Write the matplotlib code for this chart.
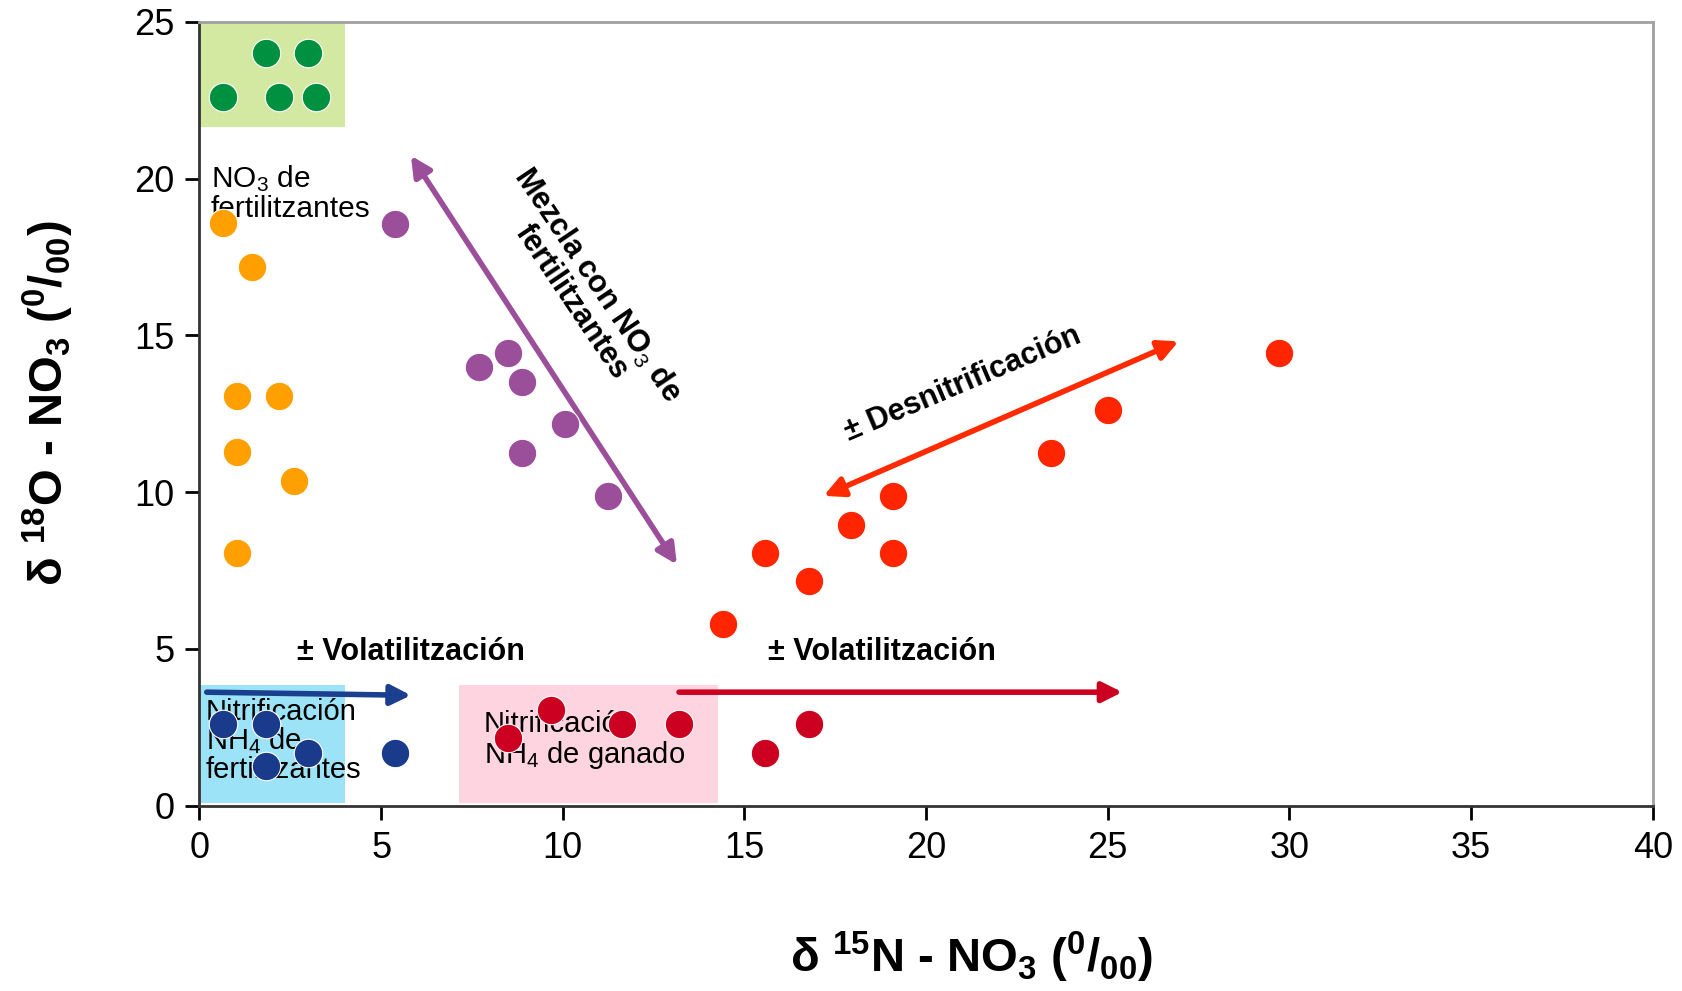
import matplotlib.pyplot as plt
from matplotlib.patches import Rectangle

plt.rcParams["font.family"] = ["Liberation Sans", "DejaVu Sans"]
plt.rcParams["mathtext.fontset"] = "custom"
plt.rcParams["mathtext.rm"] = "Liberation Sans"
plt.rcParams["mathtext.bf"] = "Liberation Sans:bold"
plt.rcParams["mathtext.it"] = "Liberation Sans:italic"

# --- data (delta15N, delta18O, per mil) ---
green_x = [0.65, 1.83, 3.0, 2.2, 3.2]
green_y = [22.6, 24.0, 24.0, 22.6, 22.6]

orange_x = [0.65, 1.45, 1.03, 2.2, 1.03, 2.6, 1.03]
orange_y = [18.57, 17.17, 13.06, 13.06, 11.29, 10.36, 8.07]

purple_x = [5.37, 8.5, 7.7, 8.89, 10.07, 8.89, 11.25]
purple_y = [18.54, 14.43, 13.99, 13.5, 12.17, 11.25, 9.88]

red_x = [14.4, 15.56, 16.77, 17.92, 19.1, 19.1, 23.44, 25.0, 29.7]
red_y = [5.78, 8.07, 7.15, 8.96, 9.88, 8.07, 11.25, 12.62, 14.43]

darkred_x = [8.5, 9.68, 11.63, 13.2, 15.56, 16.77]
darkred_y = [2.15, 3.04, 2.6, 2.6, 1.68, 2.6]

blue_x = [0.65, 1.83, 3.0, 1.83, 5.37]
blue_y = [2.6, 2.6, 1.68, 1.27, 1.68]

fig = plt.figure(figsize=(16.82, 9.91), dpi=100)
ax = fig.add_axes([0.1186, 0.187, 0.864, 0.791])

# shaded source boxes
ax.add_patch(Rectangle((0, 21.65), 4.0, 3.35, color="#d3e8a1", zorder=1, lw=0))
ax.add_patch(Rectangle((0, 0.1), 4.0, 3.76, color="#9de3f7", zorder=1, lw=0))
ax.add_patch(Rectangle((7.14, 0.1), 7.12, 3.76, color="#ffd4e1", zorder=1, lw=0))

kw = dict(s=420, edgecolors="white", linewidths=0.8, zorder=4)
ax.scatter(green_x, green_y, c="#009140", **kw)
ax.scatter(orange_x, orange_y, c="#ffa000", **kw)
ax.scatter(purple_x, purple_y, c="#9b4f9a", **kw)
ax.scatter(red_x, red_y, c="#ff2500", **kw)
ax.scatter(darkred_x, darkred_y, c="#cc0020", **kw)
ax.scatter(blue_x, blue_y, c="#1a3a8c", **kw)

# process arrows
def arrow(x0, y0, x1, y1, color, style):
    ax.annotate("", xy=(x1, y1), xytext=(x0, y0), zorder=3,
                arrowprops=dict(arrowstyle=style, color=color, lw=4,
                                mutation_scale=30, shrinkA=0, shrinkB=0))

arrow(13.14, 7.69, 5.82, 20.73, "#9b4f9a", "<|-|>")
arrow(17.18, 9.88, 26.95, 14.81, "#ff2a00", "<|-|>")
arrow(0.2, 3.62, 5.82, 3.52, "#1b3f8f", "-|>")
arrow(13.2, 3.62, 25.4, 3.62, "#cc0020", "-|>")

# annotations
ax.text(0.32, 20.5, "NO$_3$ de\nfertilitzantes", fontsize=21.5, va="top",
        ha="left", zorder=3, linespacing=1.05)
ax.text(0.18, 3.45, "Nitrificación\nNH$_4$ de\nfertilitzantes", fontsize=21,
        va="top", ha="left", zorder=3, linespacing=1.0)
ax.text(7.83, 3.05, "Nitrificación\nNH$_4$ de ganado", fontsize=21,
        va="top", ha="left", zorder=3, linespacing=1.05)
ax.text(2.69, 4.89, "± Volatilitzación", fontsize=22, fontweight="bold",
        va="center", ha="left")
ax.text(15.65, 4.89, "± Volatilitzación", fontsize=22, fontweight="bold",
        va="center", ha="left")
ax.text(21.0, 13.45, "± Desnitrificación", fontsize=22, fontweight="bold",
        va="center", ha="center", rotation=23, rotation_mode="anchor")
ax.text(10.6, 16.35, "Mezcla con NO$_3$ de\nfertilitzantes", fontsize=22,
        fontweight="bold", va="center", ha="center", rotation=-56,
        rotation_mode="anchor", linespacing=1.0)

ax.set_xlim(0, 40)
ax.set_ylim(0, 25)
ax.set_xticks(range(0, 41, 5))
ax.set_yticks(range(0, 26, 5))
ax.tick_params(axis="both", direction="out", length=10, width=2,
               labelsize=26, pad=8)

for side in ("left", "bottom"):
    ax.spines[side].set_linewidth(2)
    ax.spines[side].set_color("#333333")
for side in ("top", "right"):
    ax.spines[side].set_linewidth(2)
    ax.spines[side].set_color("#a0a0a0")

ax.set_xlabel(r"$\mathbf{\delta}$ $^{\mathbf{15}}$N - NO$_\mathbf{3}$ ($^\mathbf{0}$/$_\mathbf{00}$)",
              fontsize=34, fontweight="bold")
ax.set_ylabel(r"$\mathbf{\delta}$ $^{\mathbf{18}}$O - NO$_\mathbf{3}$ ($^\mathbf{0}$/$_\mathbf{00}$)",
              fontsize=34, fontweight="bold")
ax.xaxis.label.set_va("center")
ax.yaxis.label.set_va("center")
ax.xaxis.set_label_coords(0.531, -0.194)
ax.yaxis.set_label_coords(-0.104, 0.514)

fig.savefig("out.png", dpi=100)
